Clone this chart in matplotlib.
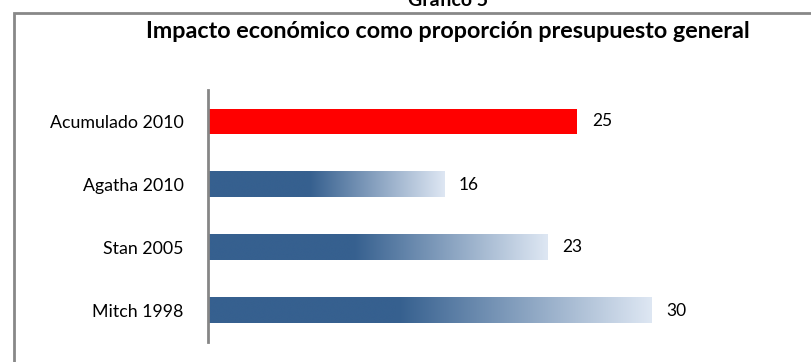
import numpy as np
import matplotlib
matplotlib.use("Agg")
import matplotlib.pyplot as plt
from matplotlib.colors import LinearSegmentedColormap
from matplotlib.patches import Rectangle

categories = ["Acumulado 2010", "Agatha 2010", "Stan 2005", "Mitch 1998"]
values = [25, 16, 23, 30]
highlight = [True, False, False, False]

title = "Impacto económico como proporción presupuesto general"
top_title = "Gráfico 5"

plt.rcParams['font.family'] = ['Lato', 'DejaVu Sans']

W, H = 812, 362
fig = plt.figure(figsize=(W / 100, H / 100), dpi=100)

# plot area in pixels (left, right, top, bottom)
px_l, px_r, px_t, px_b = 208, 790, 90, 342
px_per_unit = 14.77
ax = fig.add_axes([px_l / W, 1 - px_b / H, (px_r - px_l) / W, (px_b - px_t) / H])

dark = "#36608f"
light = "#dee7f3"
cmap = LinearSegmentedColormap.from_list("fade", [(0, dark), (0.43, dark), (1, light)])
grad = np.linspace(0, 1, 256).reshape(1, -1)
bar_h = 0.41

for i, (v, hl) in enumerate(zip(values, highlight)):
    if hl:
        ax.barh(i, v, height=bar_h, color="#ff0000", zorder=2)
    else:
        ax.imshow(grad, cmap=cmap, aspect="auto", interpolation="bicubic",
                  extent=(0, v, i + bar_h / 2, i - bar_h / 2), zorder=2)
    ax.text(v + 1.0, i, f"{v}", va="center", ha="left", fontsize=12.5, color="black")

ax.set_yticks(range(len(categories)))
ax.set_yticklabels(categories, fontsize=12.8)
ax.tick_params(axis="y", length=0, pad=17.5)
ax.set_xticks([])
for s in ["top", "right", "bottom"]:
    ax.spines[s].set_visible(False)
ax.spines["left"].set_color("#868686")
ax.spines["left"].set_linewidth(2)
ax.set_xlim(0, (px_r - px_l) / px_per_unit)
ax.set_ylim(len(categories) - 0.5, -0.5)

# outer chart border (extends past the image)
fig.patches.append(Rectangle((14 / W, -0.2), 1.2, 1.2 - 13.5 / H,
                             transform=fig.transFigure, fill=False,
                             edgecolor="#888888", linewidth=2))

fig.text(448 / W, 1 - 32 / H, title, ha="center", va="center",
         fontsize=16.8, fontweight="bold")
fig.text(448 / W, 1 - 1 / H, top_title, ha="center", va="center",
         fontsize=14, fontweight="bold")

fig.savefig("out.png", dpi=100)
